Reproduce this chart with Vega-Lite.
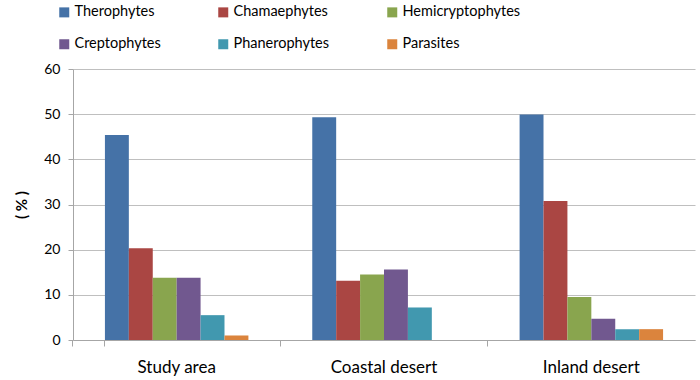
{
  "$schema": "https://vega.github.io/schema/vega-lite/v6.json",
  "autosize": "none",
  "width": 622,
  "height": 271,
  "padding": {"left": 73, "top": 69, "right": 5, "bottom": 40},
  "background": "white",
  "config": {
    "font": "Lato",
    "view": {"stroke": null}
  },
  "data": {
    "values": [
      {"region": "Study area", "type": "Therophytes", "value": 45.4},
      {"region": "Study area", "type": "Chamaephytes", "value": 20.3},
      {"region": "Study area", "type": "Hemicryptophytes", "value": 13.8},
      {"region": "Study area", "type": "Creptophytes", "value": 13.8},
      {"region": "Study area", "type": "Phanerophytes", "value": 5.5},
      {"region": "Study area", "type": "Parasites", "value": 1.0},
      {"region": "Coastal desert", "type": "Therophytes", "value": 49.3},
      {"region": "Coastal desert", "type": "Chamaephytes", "value": 13.1},
      {"region": "Coastal desert", "type": "Hemicryptophytes", "value": 14.5},
      {"region": "Coastal desert", "type": "Creptophytes", "value": 15.6},
      {"region": "Coastal desert", "type": "Phanerophytes", "value": 7.2},
      {"region": "Coastal desert", "type": "Parasites", "value": 0},
      {"region": "Inland desert", "type": "Therophytes", "value": 49.9},
      {"region": "Inland desert", "type": "Chamaephytes", "value": 30.8},
      {"region": "Inland desert", "type": "Hemicryptophytes", "value": 9.5},
      {"region": "Inland desert", "type": "Creptophytes", "value": 4.7},
      {"region": "Inland desert", "type": "Phanerophytes", "value": 2.4},
      {"region": "Inland desert", "type": "Parasites", "value": 2.4}
    ]
  },
  "mark": {"type": "bar"},
  "encoding": {
    "x": {
      "field": "region",
      "type": "nominal",
      "sort": ["Study area", "Coastal desert", "Inland desert"],
      "scale": {"paddingInner": 0.308, "paddingOuter": 0.154},
      "axis": {
        "title": null,
        "labelAngle": 0,
        "labelFontSize": 17,
        "labelColor": "#000000",
        "labelPadding": 13,
        "bandPosition": -0.223,
        "tickExtra": true,
        "tickSize": 6,
        "tickColor": "#A6A6A6",
        "domainColor": "#A6A6A6",
        "grid": false
      }
    },
    "xOffset": {
      "field": "type",
      "type": "nominal",
      "sort": ["Therophytes", "Chamaephytes", "Hemicryptophytes", "Creptophytes", "Phanerophytes", "Parasites"],
      "scale": {"paddingInner": 0, "paddingOuter": 0}
    },
    "y": {
      "field": "value",
      "type": "quantitative",
      "scale": {"domain": [0, 60], "nice": false},
      "axis": {
        "title": "( % )",
        "titleFontSize": 15,
        "titleFontWeight": "bold",
        "titleColor": "#000000",
        "titlePadding": 14,
        "values": [0, 10, 20, 30, 40, 50, 60],
        "labelFontSize": 14,
        "labelColor": "#000000",
        "labelPadding": 8,
        "tickSize": 5,
        "tickColor": "#A6A6A6",
        "domainColor": "#A6A6A6",
        "gridColor": "#BFBFBF",
        "gridWidth": 1.2
      }
    },
    "color": {
      "field": "type",
      "type": "nominal",
      "sort": ["Therophytes", "Chamaephytes", "Hemicryptophytes", "Creptophytes", "Phanerophytes", "Parasites"],
      "scale": {
        "domain": ["Therophytes", "Chamaephytes", "Hemicryptophytes", "Creptophytes", "Phanerophytes", "Parasites"],
        "range": ["#4572A7", "#AA4643", "#89A54E", "#71588F", "#4198AF", "#DB843D"]
      },
      "legend": {
        "title": null,
        "orient": "none",
        "legendX": -16,
        "legendY": -64,
        "columns": 3,
        "direction": "horizontal",
        "symbolType": "square",
        "symbolSize": 100,
        "symbolStrokeWidth": 0,
        "symbolOpacity": 1,
        "labelFontSize": 14.5,
        "labelColor": "#000000",
        "labelOffset": 3,
        "columnPadding": 55,
        "rowPadding": 17
      }
    }
  }
}
